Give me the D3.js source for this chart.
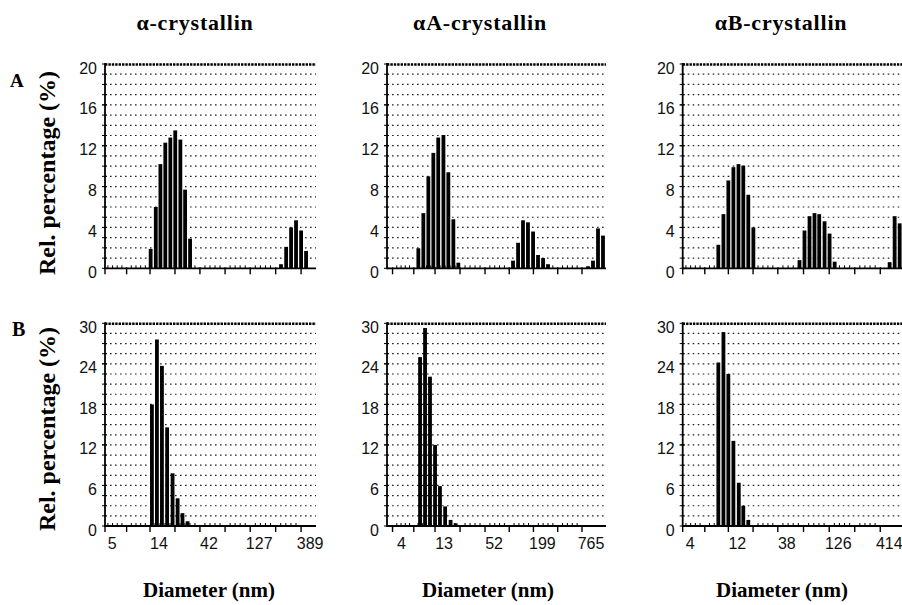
<!DOCTYPE html>
<html>
<head>
<meta charset="utf-8">
<script src="https://cdn.jsdelivr.net/npm/d3@7"></script>
<style>
  html, body { margin: 0; padding: 0; background: #fff; }
  svg { display: block; }
  .tick-label { font-family: "Liberation Sans Narrow", "Liberation Sans", Arial, sans-serif; font-size: 16px; fill: #111; }
  .serif-b { font-family: "Liberation Serif", "Times New Roman", serif; font-weight: bold; fill: #000; }
</style>
</head>
<body>
<svg id="chart" width="902" height="605"></svg>
<script>
// ---------------- data ----------------
const columnTitles = ["α-crystallin", "αA-crystallin", "αB-crystallin"];
const rowLabels = ["A", "B"];
const yAxisTitle = "Rel. percentage (%)";
const xAxisTitle = "Diameter (nm)";

// x tick labels (nm) per column
const xLabels1 = [5, 14, 42, 127, 389];
const xLabels2 = [4, 13, 52, 199, 765];
const xLabels3 = [4, 12, 38, 126, 414];

// y tick labels per row
const yTicksA = [0, 4, 8, 12, 16, 20];
const yTicksB = [0, 6, 12, 18, 24, 30];

// Row A: diameters (nm) and relative percentage
const a1Diam = [14.2, 15.9, 17.6, 19.6, 21.9, 24.4, 27.3, 30.3, 33.8, 250, 280, 312, 348, 389, 434];
const a1Pct  = [1.9, 6.0, 10.2, 12.3, 12.8, 13.5, 12.6, 7.7, 2.9, 0.4, 2.1, 4.0, 4.7, 3.7, 1.7];

const a2Diam = [8.18, 9.40, 10.8, 12.4, 14.2, 16.4, 18.8, 21.6, 24.8, 113, 130, 149, 171, 197, 226, 260, 298, 904, 1038, 1193, 1370];
const a2Pct  = [1.96, 5.4, 9.0, 11.3, 12.8, 13.05, 9.4, 4.8, 0.55, 0.75, 2.5, 4.7, 4.5, 3.6, 1.3, 1.0, 0.4, 0.2, 0.75, 3.9, 3.2];

const a3Diam = [9.50, 10.7, 12.0, 13.5, 15.2, 17.0, 19.1, 21.5, 63.0, 70.8, 79.6, 89.4, 99.8, 113, 127, 143, 515, 579, 651];
const a3Pct  = [2.3, 5.3, 8.6, 9.9, 10.2, 10.05, 7.2, 4.0, 0.8, 3.7, 5.1, 5.4, 5.3, 4.6, 3.4, 0.65, 0.6, 5.1, 4.4];

// Row B
const b1Diam = [14.6, 16.3, 18.2, 20.4, 23.0, 25.7, 28.6, 32.0];
const b1Pct  = [18.0, 27.6, 23.7, 14.6, 7.8, 4.1, 1.9, 0.7];

const b2Diam = [8.58, 9.85, 11.3, 13.0, 14.9, 17.2, 20.0, 23.0];
const b2Pct  = [25.0, 29.3, 22.1, 12.0, 5.9, 2.9, 0.9, 0.4];

const b3Diam = [9.50, 10.7, 12.0, 13.5, 15.3, 17.0, 19.1];
const b3Pct  = [24.2, 28.7, 22.5, 12.6, 6.4, 3.0, 0.9];

// ---------------- layout ----------------
const colX = [[105, 316], [387, 606], [682.7, 905]];
const colDomain = [[5.20, 540], [3.43, 1489], [4.14, 737]];
const rowY = [[64, 268.3], [323.3, 526]];
const rowMax = [20, 30];
const rowGridStep = [1, 1.5];
const rowYTicks = [yTicksA, yTicksB];
const colXLabels = [xLabels1, xLabels2, xLabels3];
const panelData = [
  [[a1Diam, a1Pct], [a2Diam, a2Pct], [a3Diam, a3Pct]],
  [[b1Diam, b1Pct], [b2Diam, b2Pct], [b3Diam, b3Pct]]
];

const svg = d3.select("#chart");
svg.append("rect").attr("width", 902).attr("height", 605).attr("fill", "#fff");

const defs = svg.append("defs");

function geomMid(a, b) { return Math.sqrt(a * b); }

rowY.forEach((ry, ri) => {
  colX.forEach((cx, ci) => {
    const x = d3.scaleLog().domain(colDomain[ci]).range(cx);
    const y = d3.scaleLinear().domain([0, rowMax[ri]]).range([ry[1], ry[0]]);
    const g = svg.append("g");
    const clipId = `clip-${ri}-${ci}`;
    defs.append("clipPath").attr("id", clipId)
      .append("rect").attr("x", cx[0]).attr("y", ry[0] - 2)
      .attr("width", cx[1] - cx[0]).attr("height", ry[1] - ry[0] + 2);

    // dotted horizontal grid lines
    const gridVals = d3.range(rowGridStep[ri], rowMax[ri] - 0.01, rowGridStep[ri]);
    g.selectAll("line.grid").data(gridVals).enter().append("line")
      .attr("x1", cx[0]).attr("x2", cx[1])
      .attr("y1", d => y(d)).attr("y2", d => y(d))
      .attr("stroke", "#222").attr("stroke-width", 1.2)
      .attr("stroke-dasharray", "1.6,3.4");

    // left axis ticks
    g.selectAll("line.ytick").data(gridVals.concat(rowYTicks[ri])).enter().append("line")
      .attr("x1", cx[0] - 3).attr("x2", cx[0] + 2)
      .attr("y1", d => y(d)).attr("y2", d => y(d))
      .attr("stroke", "#000").attr("stroke-width", 1);

    // bars
    const [diam, pct] = panelData[ri][ci];
    g.append("g").attr("clip-path", `url(#${clipId})`)
      .selectAll("rect").data(diam.map((d, i) => [d, pct[i]])).enter().append("rect")
      .attr("x", d => x(d[0]) - 1.9).attr("width", 3.8)
      .attr("y", d => y(d[1])).attr("height", d => y(0) - y(d[1]))
      .attr("fill", "#000");

    // top border (heavy hatched)
    g.append("line").attr("x1", cx[0]).attr("x2", cx[1])
      .attr("y1", y(rowMax[ri]) + 0.5).attr("y2", y(rowMax[ri]) + 0.5)
      .attr("stroke", "#000").attr("stroke-width", 2.6)
      .attr("stroke-dasharray", "2.4,1");

    // left axis
    g.append("line").attr("x1", cx[0]).attr("x2", cx[0])
      .attr("y1", ry[0] - 1).attr("y2", ry[1] + 1)
      .attr("stroke", "#000").attr("stroke-width", 1.8);

    // bottom axis
    g.append("line").attr("x1", cx[0]).attr("x2", cx[1])
      .attr("y1", y(0)).attr("y2", y(0))
      .attr("stroke", "#000").attr("stroke-width", 1.8);

    // x major ticks: labels and geometric midpoints
    const labs = colXLabels[ci];
    let majors = [];
    labs.forEach((v, i) => {
      majors.push(v);
      if (i < labs.length - 1) majors.push(geomMid(v, labs[i + 1]));
    });
    majors = majors.filter(v => x(v) >= cx[0] - 3 && x(v) <= cx[1]);
    g.selectAll("line.xmaj").data(majors).enter().append("line")
      .attr("x1", d => Math.max(cx[0], x(d))).attr("x2", d => Math.max(cx[0], x(d)))
      .attr("y1", y(0) - 1).attr("y2", y(0) + 6)
      .attr("stroke", "#000").attr("stroke-width", 1.4);

    // x minor ticks (upward)
    const minors = [];
    for (let i = 0; i < majors.length - 1; i++) {
      const a = Math.log(majors[i]), b = Math.log(majors[i + 1]);
      for (let k = 1; k < 5; k++) minors.push(Math.exp(a + (b - a) * k / 5));
    }
    g.selectAll("line.xmin").data(minors).enter().append("line")
      .attr("x1", d => x(d)).attr("x2", d => x(d))
      .attr("y1", y(0) - 3).attr("y2", y(0))
      .attr("stroke", "#000").attr("stroke-width", 1);

    // y tick labels
    g.selectAll("text.ylab").data(rowYTicks[ri]).enter().append("text")
      .attr("class", "tick-label")
      .attr("x", cx[0] - 8).attr("y", d => y(d) + 4)
      .attr("text-anchor", "end").attr("dominant-baseline", "central")
      .text(d => d);

    // x tick labels on bottom row only
    if (ri === 1) {
      g.selectAll("text.xlab").data(labs).enter().append("text")
        .attr("class", "tick-label")
        .attr("x", d => x(d) + 9).attr("y", 549)
        .attr("text-anchor", "middle")
        .text(d => d);
    }
  });
});

// column titles
const titleX = [195, 480, 781];
svg.selectAll("text.ctitle").data(columnTitles).enter().append("text")
  .attr("class", "serif-b")
  .attr("x", (d, i) => titleX[i]).attr("y", 30)
  .attr("text-anchor", "middle").attr("font-size", 22).attr("letter-spacing", 0.8)
  .text(d => d);

// row labels
const rowLabelPos = [[10, 87, 19], [12, 336, 20]];
svg.selectAll("text.rlab").data(rowLabels).enter().append("text")
  .attr("class", "serif-b")
  .attr("x", (d, i) => rowLabelPos[i][0]).attr("y", (d, i) => rowLabelPos[i][1])
  .attr("font-size", (d, i) => rowLabelPos[i][2])
  .text(d => d);

// y axis titles
const yTitleY = [173, 429];
yTitleY.forEach(cy => {
  svg.append("text").attr("class", "serif-b")
    .attr("transform", `translate(55,${cy}) rotate(-90)`)
    .attr("text-anchor", "middle").attr("font-size", 24)
    .text(yAxisTitle);
});

// x axis titles
const xTitleX = [209, 488, 782];
xTitleX.forEach(cxp => {
  svg.append("text").attr("class", "serif-b")
    .attr("x", cxp).attr("y", 597)
    .attr("text-anchor", "middle").attr("font-size", 21)
    .text(xAxisTitle);
});
</script>
</body>
</html>
